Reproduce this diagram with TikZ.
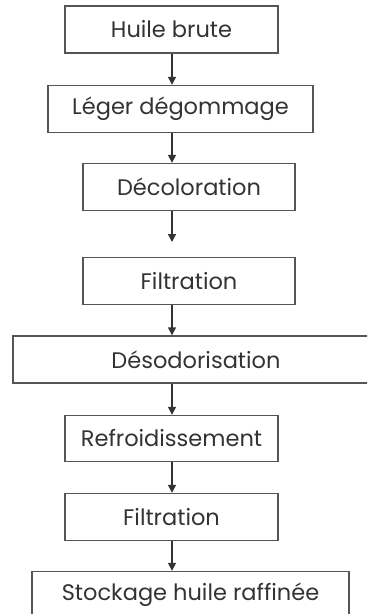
\documentclass[tikz,border=0pt]{standalone}
\usepackage{fontspec}
\setmainfont{Poppins}
\usetikzlibrary{arrows.meta}
\definecolor{linec}{HTML}{555555}
\definecolor{textc}{HTML}{333333}
\tikzset{
  x=1bp, y=-1bp,
  stepbox/.style={draw=linec, line width=1.4bp, minimum height=47bp, inner sep=0pt,
    text=textc, font=\fontsize{22.5bp}{26bp}\selectfont},
  arr/.style={draw=black!80, line width=1.4bp, -{Triangle[width=8bp,length=8bp]}}
}
\begin{document}
\begin{tikzpicture}
\useasboundingbox (0,0) rectangle (367,614);
\clip (0,0) rectangle (367,614);
\node[stepbox, minimum width=213bp] (b1) at (171.5,29.5) {Huile brute};
\node[stepbox, minimum width=265bp] (b2) at (180.5,109) {Léger dégommage};
\node[stepbox, minimum width=212bp] (b3) at (189,187) {Décoloration};
\node[stepbox, minimum width=212bp] (b4) at (189,281) {Filtration};
\node[stepbox, minimum width=366bp] (b5) at (196,359.5) {Désodorisation};
\node[stepbox, minimum width=213bp, minimum height=46bp] (b6) at (171.5,438.5) {Refroidissement};
\node[stepbox, minimum width=213bp] (b7) at (171.5,517) {Filtration};
\node[stepbox, minimum width=317bp] (b8) at (190.5,595) {Stockage huile raffinée};
\coordinate (ax) at (172,0);
\coordinate (f1) at (172,242);
\draw[arr] (ax |- b1.south) -- (ax |- b2.north);
\draw[arr] (ax |- b2.south) -- (ax |- b3.north);
\draw[arr] (ax |- b3.south) -- (f1);
\draw[arr] (ax |- b4.south) -- (ax |- b5.north);
\draw[arr] (ax |- b5.south) -- (ax |- b6.north);
\draw[arr] (ax |- b6.south) -- (ax |- b7.north);
\draw[arr] (ax |- b7.south) -- (ax |- b8.north);
\end{tikzpicture}
\end{document}
